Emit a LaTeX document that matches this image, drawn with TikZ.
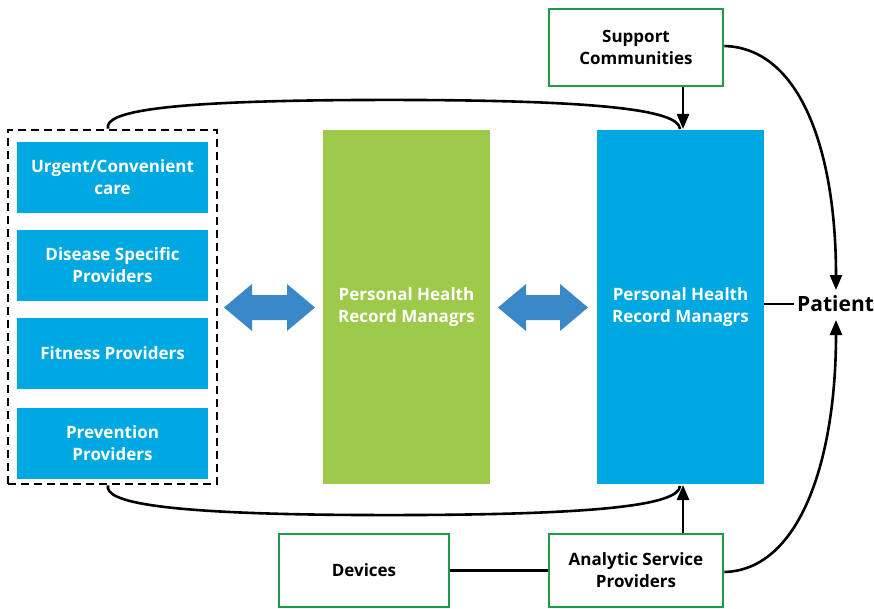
\documentclass[tikz,border=0pt]{standalone}
\usepackage{fontspec}
\setmainfont{Open Sans}
\usetikzlibrary{arrows.meta}
\definecolor{cblue}{HTML}{00A8E2}
\definecolor{cgreen}{HTML}{9DCA4A}
\definecolor{carrow}{HTML}{3A88C8}
\definecolor{cborder}{HTML}{1E9A48}
\tikzset{
  txt/.style={font=\bfseries\fontsize{17}{22}\selectfont, align=center, inner sep=0pt},
  prov/.style={txt, fill=cblue, text=white},
  whitebox/.style={txt, draw=cborder, line width=2.6pt, fill=white, text=black},
  conn/.style={line width=2.6pt, black},
  tip/.style={-{Triangle[length=15pt,width=12pt]}},
  dblarrow/.style={fill=carrow, draw=none}
}
\newcommand{\dblarr}[3]{% left x, right x, center y
  \fill[dblarrow] (#1,#3) -- ({#1+28},{#3-23.5}) -- ({#1+28},{#3-12.5}) -- ({#2-28},{#3-12.5}) -- ({#2-28},{#3-23.5}) -- (#2,#3) -- ({#2-28},{#3+23.5}) -- ({#2-28},{#3+12.5}) -- ({#1+28},{#3+12.5}) -- ({#1+28},{#3+23.5}) -- cycle;}
\begin{document}
\begin{tikzpicture}[x=1pt,y=-1pt]
\useasboundingbox (0,0) rectangle (874,609);
% dashed group
\node[draw, line width=2.8pt, dash pattern=on 8pt off 5pt, minimum width=209pt, minimum height=354pt, inner sep=0pt] (grp) at (112.5,307) {};
\node[prov, minimum width=191pt, minimum height=71pt] (urg) at (112.5,177.5) {Urgent/Convenient\\care};
\node[prov, minimum width=191pt, minimum height=71pt] (dis) at (112.5,265.5) {Disease Specific\\Providers};
\node[prov, minimum width=191pt, minimum height=71pt] (fit) at (112.5,353.5) {Fitness Providers};
\node[prov, minimum width=191pt, minimum height=71pt] (pre) at (112.5,443.5) {Prevention\\Providers};
% center
\node[txt, fill=cgreen, text=white, minimum width=167pt, minimum height=354pt] (phr1) at (406.5,307) {Personal Health\\Record Managrs};
\node[prov, minimum width=167pt, minimum height=354pt] (phr2) at (680.5,307) {Personal Health\\Record Managrs};
% double arrows
\dblarr{224}{315}{307.5}
\dblarr{498}{588}{307.5}
% top / bottom boxes
\node[whitebox, minimum width=174pt, minimum height=77pt] (sup) at (636,47.5) {Support\\Communities};
\node[whitebox, minimum width=170pt, minimum height=73pt] (dev) at (364,570.5) {Devices};
\node[whitebox, minimum width=174pt, minimum height=73pt] (ana) at (636,570.5) {Analytic Service\\Providers};
% patient
\node[font=\bfseries\fontsize{21}{24}\selectfont, anchor=west, inner sep=0pt] (pat) at (797,304) {Patient};
\coordinate (patT) at (836,290);
\coordinate (patB) at (836,320);
% connectors
\draw[conn] (phr2.east |- pat.west) -- ([xshift=-3pt]pat.west);
\draw[conn] (dev.east) -- (ana.west);
\draw[conn, tip] (sup.south -| 683,0) -- (683,129);
\draw[conn, tip] (ana.north -| 683,0) -- (683,485);
\draw[conn] (grp.north -| 108,0) .. controls (104,112) and (160,101) .. (360,100) .. controls (600,99) and (679,110) .. (680,129);
\draw[conn] (grp.south -| 108,0) .. controls (104,502) and (160,514) .. (360,515) .. controls (600,516) and (679,505) .. (680,486);
\draw[conn, tip] (sup.east |- 0,46) .. controls (800,48) and (836,150) .. (patT);
\draw[conn, tip] (ana.east |- 0,572) .. controls (800,570) and (836,460) .. (patB);
\end{tikzpicture}
\end{document}
